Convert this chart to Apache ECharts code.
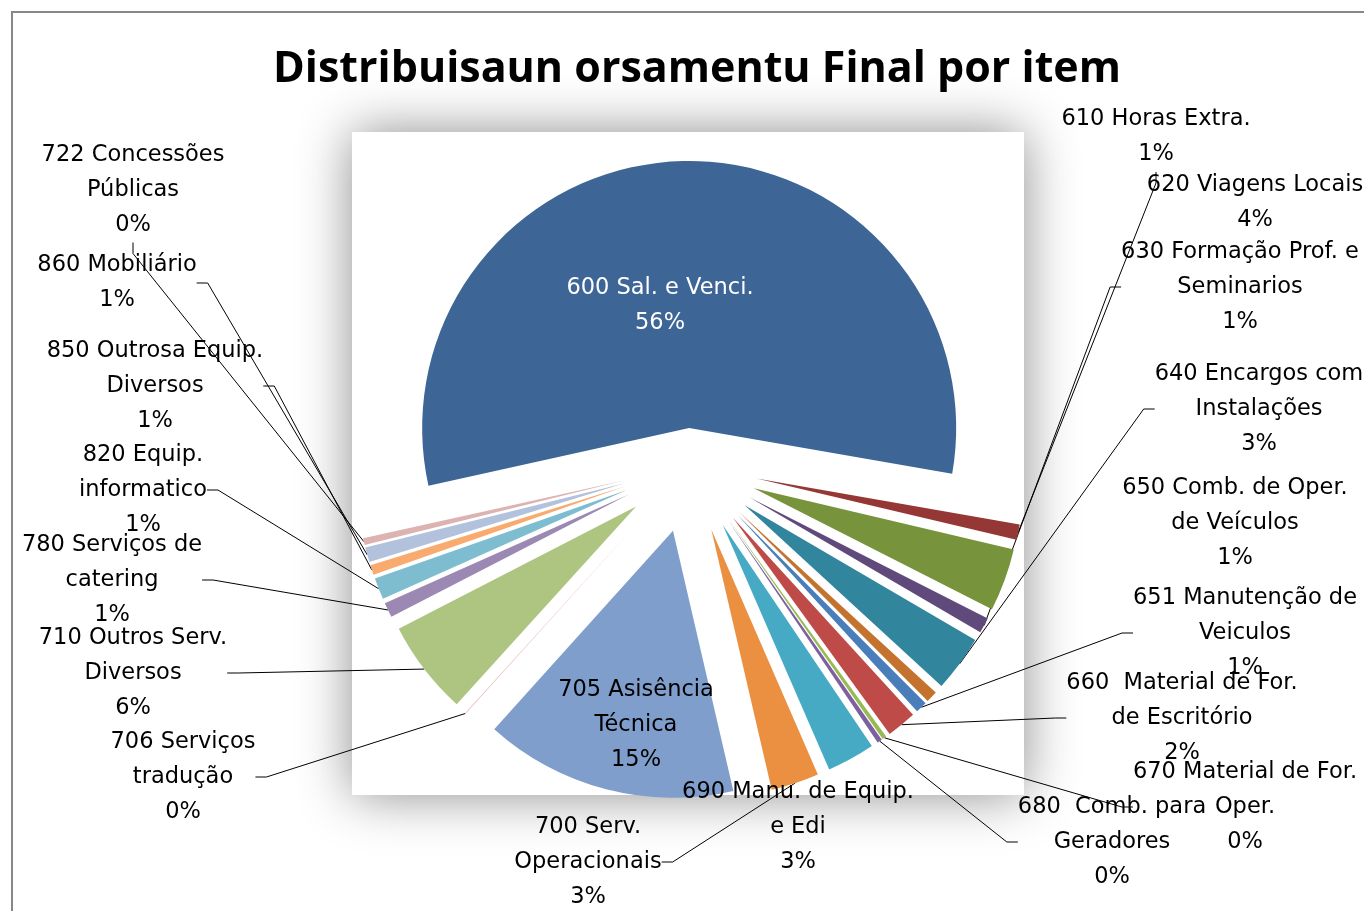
<!DOCTYPE html>
<html>
<head>
<meta charset="utf-8">
<script src="https://cdn.jsdelivr.net/npm/echarts@6/dist/echarts.min.js"></script>
<style>
html,body{margin:0;padding:0;background:#fff;}
#chart{width:1364px;height:911px;}
</style>
</head>
<body>
<div id="chart"></div>
<script>
// ---- data ----
var categories = [
  '600 Sal. e Venci.',
  '610 Horas Extra.',
  '620 Viagens Locais',
  '630 Formação Prof. e\nSeminarios',
  '640 Encargos com\nInstalações',
  '650 Comb. de Oper.\nde Veículos',
  '651 Manutenção de\nVeiculos',
  '660  Material de For.\nde Escritório',
  '670 Material de For.\nOper.',
  '680  Comb. para\nGeradores',
  '690 Manu. de Equip.\ne Edi',
  '700 Serv.\nOperacionais',
  '705 Asisência\nTécnica',
  '706 Serviços\ntradução',
  '710 Outros Serv.\nDiversos',
  '780 Serviços de\ncatering',
  '820 Equip.\ninformatico',
  '850 Outrosa Equip.\nDiversos',
  '860 Mobiliário',
  '722 Concessões\nPúblicas'
];
var shares = [56.2, 0.93, 3.8, 0.94, 3.4, 0.7, 0.7, 1.8, 0.25, 0.3, 2.9, 2.9, 15.3, 0.05, 5.7, 0.9, 1.3, 0.6, 0.9, 0.4];

// ---- styles / layout ----
var sliceColors = ['#3D6596', '#953735', '#77933C', '#604A7B', '#31859C', '#C4732F', '#4A7EBB', '#BE4B48',
  '#98B954', '#7D60A0', '#46AAC5', '#EB8F41', '#7F9ECB', '#E6B9B8', '#ADC581', '#9B89B3', '#7EBDD0',
  '#F9AB6F', '#B3C2DC', '#DDB3B2'];
var insideLabel = [true, false, false, false, false, false, false, false, false, false,
  false, false, true, false, false, false, false, false, false, false];
var leaderLine = [false, true, false, true, true, false, true, true, true, true,
  false, true, false, true, true, true, true, true, true, true];
// label block centres (annotation layout)
var labelPos = [
  [660, 306], [1156, 137], [1255, 203], [1240, 287], [1259, 409], [1235, 523], [1245, 633],
  [1182, 718], [1245, 807], [1112, 842], [798, 827], [588, 862], [636, 725], [183, 777],
  [133, 673], [112, 580], [143, 490], [155, 386], [117, 283], [133, 190]
];
var PIE_CENTER = [690, 465];
var PIE_RADIUS = 267;
var START_ANGLE = 192.5;
var MAIN_EXPLODE = 37;   // explosion of the first slice (px)
var OTHER_EXPLODE = 68;  // explosion of all other slices (px)
var LABEL_FONT = '"DejaVu Sans", sans-serif';
var TITLE_FONT = '"Open Sans", sans-serif';

var total = shares.reduce(function (a, b) { return a + b; }, 0);

// explosion: shift each slice outward along its bisector
function explodedCenter(i) {
  var before = 0;
  for (var k = 0; k < i; k++) before += shares[k];
  var mid = (-START_ANGLE + (before + shares[i] / 2) / total * 360) * Math.PI / 180;
  var d = i === 0 ? MAIN_EXPLODE : OTHER_EXPLODE;
  return [PIE_CENTER[0] + d * Math.cos(mid), PIE_CENTER[1] + d * Math.sin(mid)];
}

function buildData(idx) {
  return categories.map(function (c, j) {
    var visible = (j === idx);
    return {
      name: c,
      value: shares[j],
      itemStyle: { color: visible ? sliceColors[j] : 'rgba(0,0,0,0)' },
      label: {
        show: visible,
        position: insideLabel[j] ? 'inside' : 'outside',
        color: j === 0 ? '#fff' : '#000'
      },
      labelLine: { show: visible && leaderLine[j] }
    };
  });
}

var series = categories.map(function (c, i) {
  return {
    type: 'pie',
    center: explodedCenter(i),
    radius: [0, PIE_RADIUS],
    startAngle: START_ANGLE,
    clockwise: true,
    avoidLabelOverlap: false,
    silent: true,
    animation: false,
    itemStyle: { borderWidth: 0 },
    label: {
      fontFamily: LABEL_FONT,
      fontSize: 22.5,
      lineHeight: 35,
      align: 'center',
      formatter: function (p) { return p.name + '\n' + Math.round(p.percent) + '%'; }
    },
    labelLine: { length: 10, length2: 11, minTurnAngle: 0, smooth: false,
      lineStyle: { color: '#000', width: 1 } },
    labelLayout: function (p) {
      var pos = labelPos[p.dataIndex];
      return { x: pos[0], y: pos[1], align: 'center', verticalAlign: 'middle' };
    },
    data: buildData(i)
  };
});

var chart = echarts.init(document.getElementById('chart'), null, { renderer: 'canvas' });
chart.setOption({
  backgroundColor: '#fff',
  animation: false,
  title: {
    text: 'Distribuisaun orsamentu Final por item',
    left: 692,
    textAlign: 'center',
    top: 43,
    textStyle: { fontFamily: TITLE_FONT, fontWeight: 'bold', fontSize: 43, color: '#000' }
  },
  graphic: [
    { type: 'rect', z: 0, silent: true, shape: { x: 12, y: 12, width: 1420, height: 1000 },
      style: { fill: '#fff', stroke: '#878787', lineWidth: 2 } },
    { type: 'rect', z: 1, silent: true, shape: { x: 352, y: 132, width: 672, height: 663 },
      style: { fill: '#fff', shadowBlur: 50, shadowColor: 'rgba(0,0,0,0.45)' } }
  ],
  series: series
});
</script>
</body>
</html>
